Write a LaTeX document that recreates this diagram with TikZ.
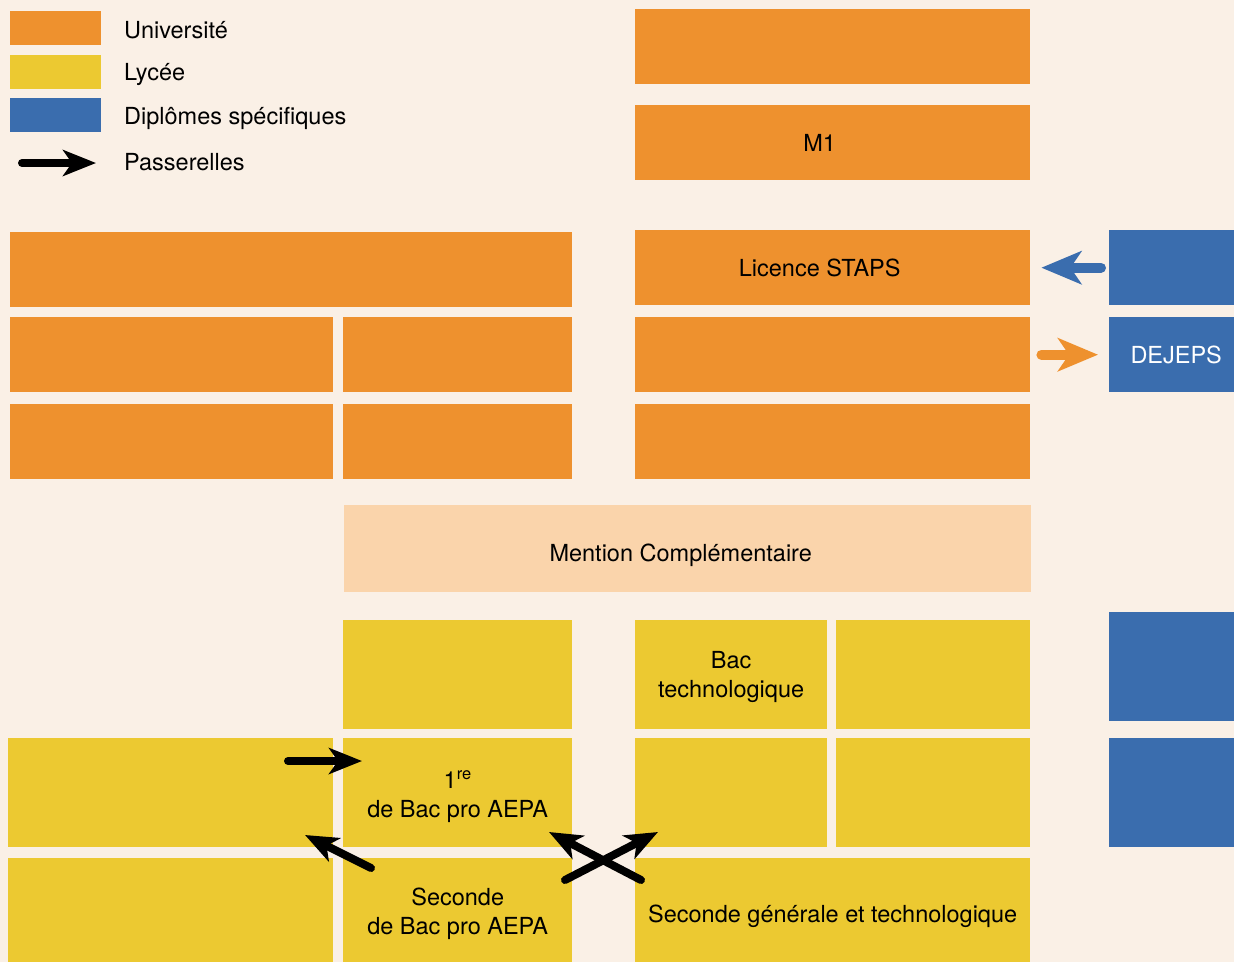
\documentclass[tikz,border=0pt]{standalone}
\usepackage{fontspec}
\setmainfont{TeX Gyre Heros}
\usetikzlibrary{positioning,arrows.meta,calc}
\definecolor{fond}{HTML}{FAF0E6}
\definecolor{univ}{HTML}{EE912E}
\definecolor{lycee}{HTML}{ECC931}
\definecolor{diplome}{HTML}{3A6DAE}
\definecolor{mention}{HTML}{FAD4AB}
\tikzset{bloc/.style={rectangle, anchor=north west, inner sep=0pt,
    align=center, font=\fontsize{23.5}{29}\selectfont, text=black},
  univbloc/.style={bloc, fill=univ},
  lyceebloc/.style={bloc, fill=lycee},
  dipbloc/.style={bloc, fill=diplome, text=white},
  legende/.style={anchor=west, inner sep=0pt, font=\fontsize{23.5}{28}\selectfont},
  passerelle/.style={-{Stealth[length=33pt, width=26pt, inset=9pt]}, line width=8pt, line cap=round},
  grosse/.style={-{Stealth[length=40pt, width=33pt, inset=11pt]}, line width=10pt, line cap=round}
}
\newcommand{\bloc}[7]{\node (#1) [#2, minimum width=#5pt, minimum height=#6pt] at (#3,#4) {#7};}

\begin{document}
\begin{tikzpicture}[x=1pt, y=-1pt]

   \fill [fond] (0,0) rectangle (1234,962);
   \useasboundingbox (0,0) rectangle (1234,962);

   %Legend
   \bloc{leg-u}{univbloc}{10}{11}{91}{34}{}
   \bloc{leg-l}{lyceebloc}{10}{55}{91}{34}{}
   \bloc{leg-d}{dipbloc}{10}{98}{91}{34}{}
   \coordinate (leg-a1) at (22,163);
   \coordinate (leg-a2) at (96,163);
   \draw [passerelle] (leg-a1) -- (leg-a2);
   \node (txt-u) [legende] at (124,30) {Université};
   \node (txt-l) [legende] at (124,74) {Lycée};
   \node (txt-d) [legende] at (124,118) {Diplômes spécifiques};
   \node (txt-a) [legende] at (124,162) {Passerelles};

   %University column
   \bloc{m2}{univbloc}{635}{9}{395}{75}{}
   \bloc{m1}{univbloc}{635}{105}{395}{75}{M1\hspace*{26pt}}
   \bloc{staps}{univbloc}{635}{230}{395}{75}{Licence STAPS\hspace*{26pt}}
   \bloc{l2-r}{univbloc}{635}{317}{395}{75}{}
   \bloc{l1-r}{univbloc}{635}{404}{395}{75}{}

   %University, left blocks
   \bloc{l3-g}{univbloc}{10}{232}{562}{75}{}
   \bloc{l2-g}{univbloc}{10}{317}{323}{75}{}
   \bloc{l2-m}{univbloc}{343}{317}{229}{75}{}
   \bloc{l1-g}{univbloc}{10}{404}{323}{75}{}
   \bloc{l1-m}{univbloc}{343}{404}{229}{75}{}

   %Mention node
   \bloc{mc}{bloc, fill=mention}{344}{505}{687}{87}{\rule{0pt}{31pt}Mention Complémentaire\hspace*{14pt}}

   %Lycee blocks
   \bloc{term-m}{lyceebloc}{343}{620}{229}{109}{}
   \bloc{bactec}{lyceebloc}{635}{620}{192}{109}{\rule{0pt}{21pt}Bac\\technologique}
   \bloc{bacgen}{lyceebloc}{836}{620}{194}{109}{}
   \bloc{prem-g}{lyceebloc}{8}{738}{325}{109}{}
   \bloc{prem-m}{lyceebloc}{343}{738}{229}{109}{\rule{0pt}{25pt}1\textsuperscript{re}\\de Bac pro AEPA}
   \bloc{prem-t}{lyceebloc}{635}{738}{192}{109}{}
   \bloc{prem-s}{lyceebloc}{836}{738}{194}{109}{}
   \bloc{sec-g}{lyceebloc}{8}{858}{325}{104}{}
   \bloc{sec-m}{lyceebloc}{343}{858}{229}{104}{\rule{0pt}{25pt}Seconde\\de Bac pro AEPA}
   \bloc{sec-gt}{lyceebloc}{635}{858}{395}{104}{\rule{0pt}{29pt}Seconde générale et technologique}

   %Specific diplomas
   \bloc{dip-l}{dipbloc}{1109}{230}{125}{75}{}
   \bloc{dejeps}{dipbloc}{1109}{317}{125}{75}{\hspace*{9pt}DEJEPS}
   \bloc{dip-b}{dipbloc}{1109}{612}{125}{109}{}
   \bloc{dip-c}{dipbloc}{1109}{738}{125}{109}{}

   %Passerelles
   \draw [grosse, diplome] ([xshift=-8pt]dip-l.west) -- ([xshift=11pt]staps.east);
   \draw [grosse, univ] ([xshift=11pt]l2-r.east) -- ([xshift=-11pt]dejeps.west);

   \coordinate (pa1) at (288,761);
   \coordinate (pa2) at (362,761);
   \coordinate (pb1) at (371,868);
   \coordinate (pb2) at (305,835);
   \coordinate (pc1) at (565,880);
   \coordinate (pc2) at (658,832);
   \coordinate (pd1) at (641,880);
   \coordinate (pd2) at (549,832);
   \draw [passerelle] (pa1) -- (pa2);
   \draw [passerelle] (pb1) -- (pb2);
   \draw [passerelle] (pc1) -- (pc2);
   \draw [passerelle] (pd1) -- (pd2);

\end{tikzpicture}
\end{document}
